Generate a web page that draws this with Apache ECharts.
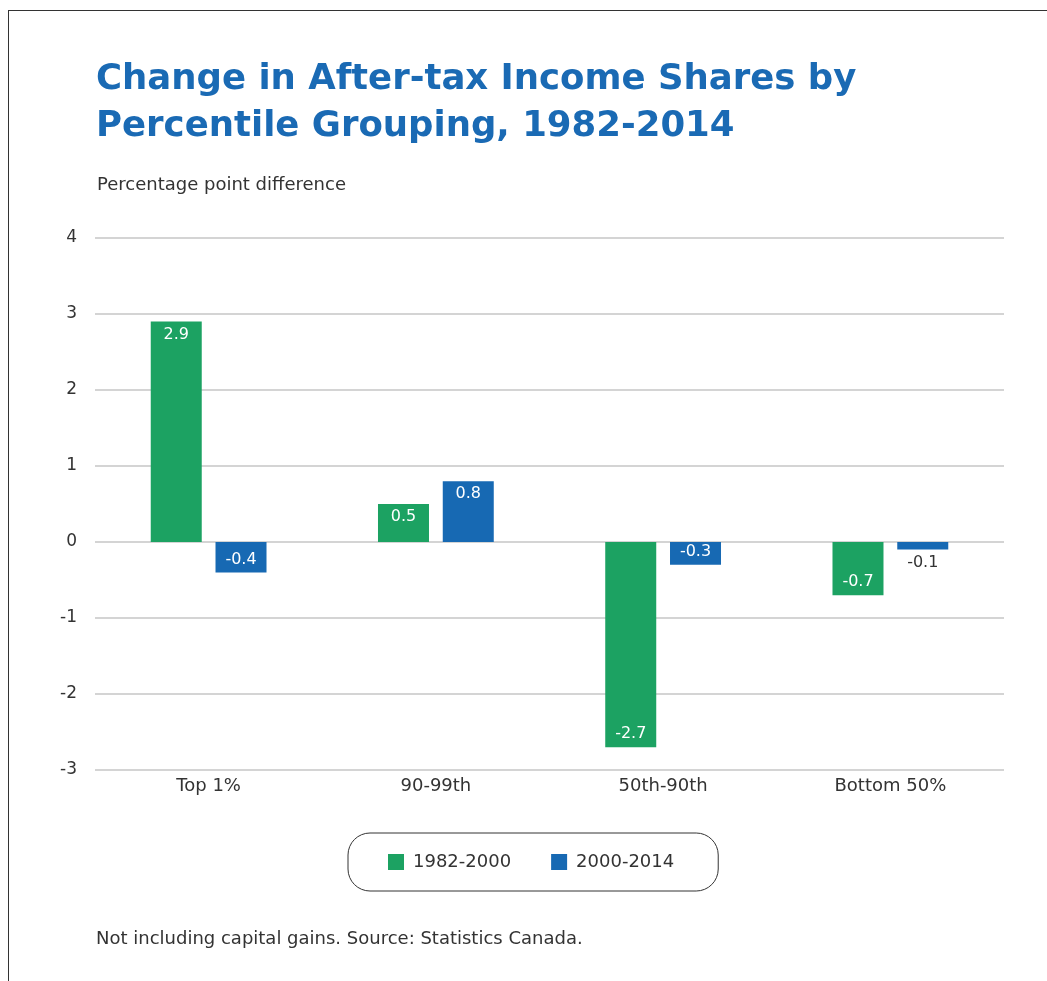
<!DOCTYPE html>
<html>
<head>
<meta charset="utf-8">
<script src="https://cdn.jsdelivr.net/npm/echarts@6/dist/echarts.min.js"></script>
<style>
* { margin: 0; padding: 0; }
body { background: #fff; }
#frame {
  position: absolute; left: 8px; top: 10px; width: 1039px; height: 971px;
  border-top: 1.5px solid #333; border-left: 1.5px solid #333;
}
#chart { position: absolute; left: 0; top: 0; width: 1047px; height: 981px; }
</style>
</head>
<body>
<div id="frame"></div>
<div id="chart"></div>
<script>
// 数据
var categories = ['Top 1%', '90-99th', '50th-90th', 'Bottom 50%'];
var seriesNames = ['1982-2000', '2000-2014'];
var values1982 = [2.9, 0.5, -2.7, -0.7];
var values2000 = [-0.4, 0.8, -0.3, -0.1];
var yTicks = [-3, -2, -1, 0, 1, 2, 3, 4];

var green = '#1ca262';
var blue = '#1769b3';
var font = 'DejaVu Sans';

// small bars get their label outside
function toItems(arr) {
  return arr.map(function (v) {
    var label;
    if (Math.abs(v) < 0.2) {
      label = { position: v < 0 ? 'bottom' : 'top', color: '#333' };
    } else {
      label = { position: v < 0 ? 'insideBottom' : 'insideTop', color: '#fff' };
    }
    return { value: v, label: label };
  });
}

var chart = echarts.init(document.getElementById('chart'));
var option = {
  animation: false,
  title: {
    text: 'Change in After-tax Income Shares by\nPercentile Grouping, 1982-2014',
    left: 91,
    top: 51,
    textStyle: {
      fontFamily: font,
      fontWeight: 'bold',
      fontSize: 35.5,
      lineHeight: 47,
      color: '#1a6ab4'
    }
  },
  graphic: [
    {
      type: 'text', left: 97, top: 176,
      style: { text: 'Percentage point difference', fontFamily: font, fontSize: 18, fill: '#333' }
    },
    {
      type: 'text', left: 96, top: 930,
      style: { text: 'Not including capital gains. Source: Statistics Canada.', fontFamily: font, fontSize: 18, fill: '#333' }
    }
  ],
  legend: {
    data: seriesNames,
    left: 348,
    top: 833,
    padding: [20, 44, 20, 40],
    borderColor: '#333',
    borderWidth: 1,
    borderRadius: 22,
    itemWidth: 16,
    itemHeight: 16,
    itemGap: 40,
    icon: 'rect',
    textStyle: { fontFamily: font, fontSize: 18, color: '#333', padding: [0, 0, 0, 4] }
  },
  grid: { left: 95, right: 43, top: 238, bottom: 211 },
  xAxis: {
    type: 'category',
    data: categories,
    axisLine: { show: false },
    axisTick: { show: false },
    axisLabel: { fontFamily: font, fontSize: 18, color: '#333', margin: 7 }
  },
  yAxis: {
    type: 'value',
    min: yTicks[0],
    max: yTicks[yTicks.length - 1],
    interval: 1,
    axisLine: { show: false },
    axisTick: { show: false },
    axisLabel: { fontFamily: font, fontSize: 17, color: '#333', margin: 18 },
    splitLine: { lineStyle: { color: '#c6c6c6', width: 1.5 } }
  },
  series: [
    {
      name: seriesNames[0],
      type: 'bar',
      data: toItems(values1982),
      itemStyle: { color: green },
      barWidth: 51,
      barGap: '27%',
      label: { show: true, fontFamily: font, fontSize: 16 }
    },
    {
      name: seriesNames[1],
      type: 'bar',
      data: toItems(values2000),
      itemStyle: { color: blue },
      barWidth: 51,
      barGap: '27%',
      label: { show: true, fontFamily: font, fontSize: 16 }
    }
  ]
};
chart.setOption(option);
</script>
</body>
</html>
